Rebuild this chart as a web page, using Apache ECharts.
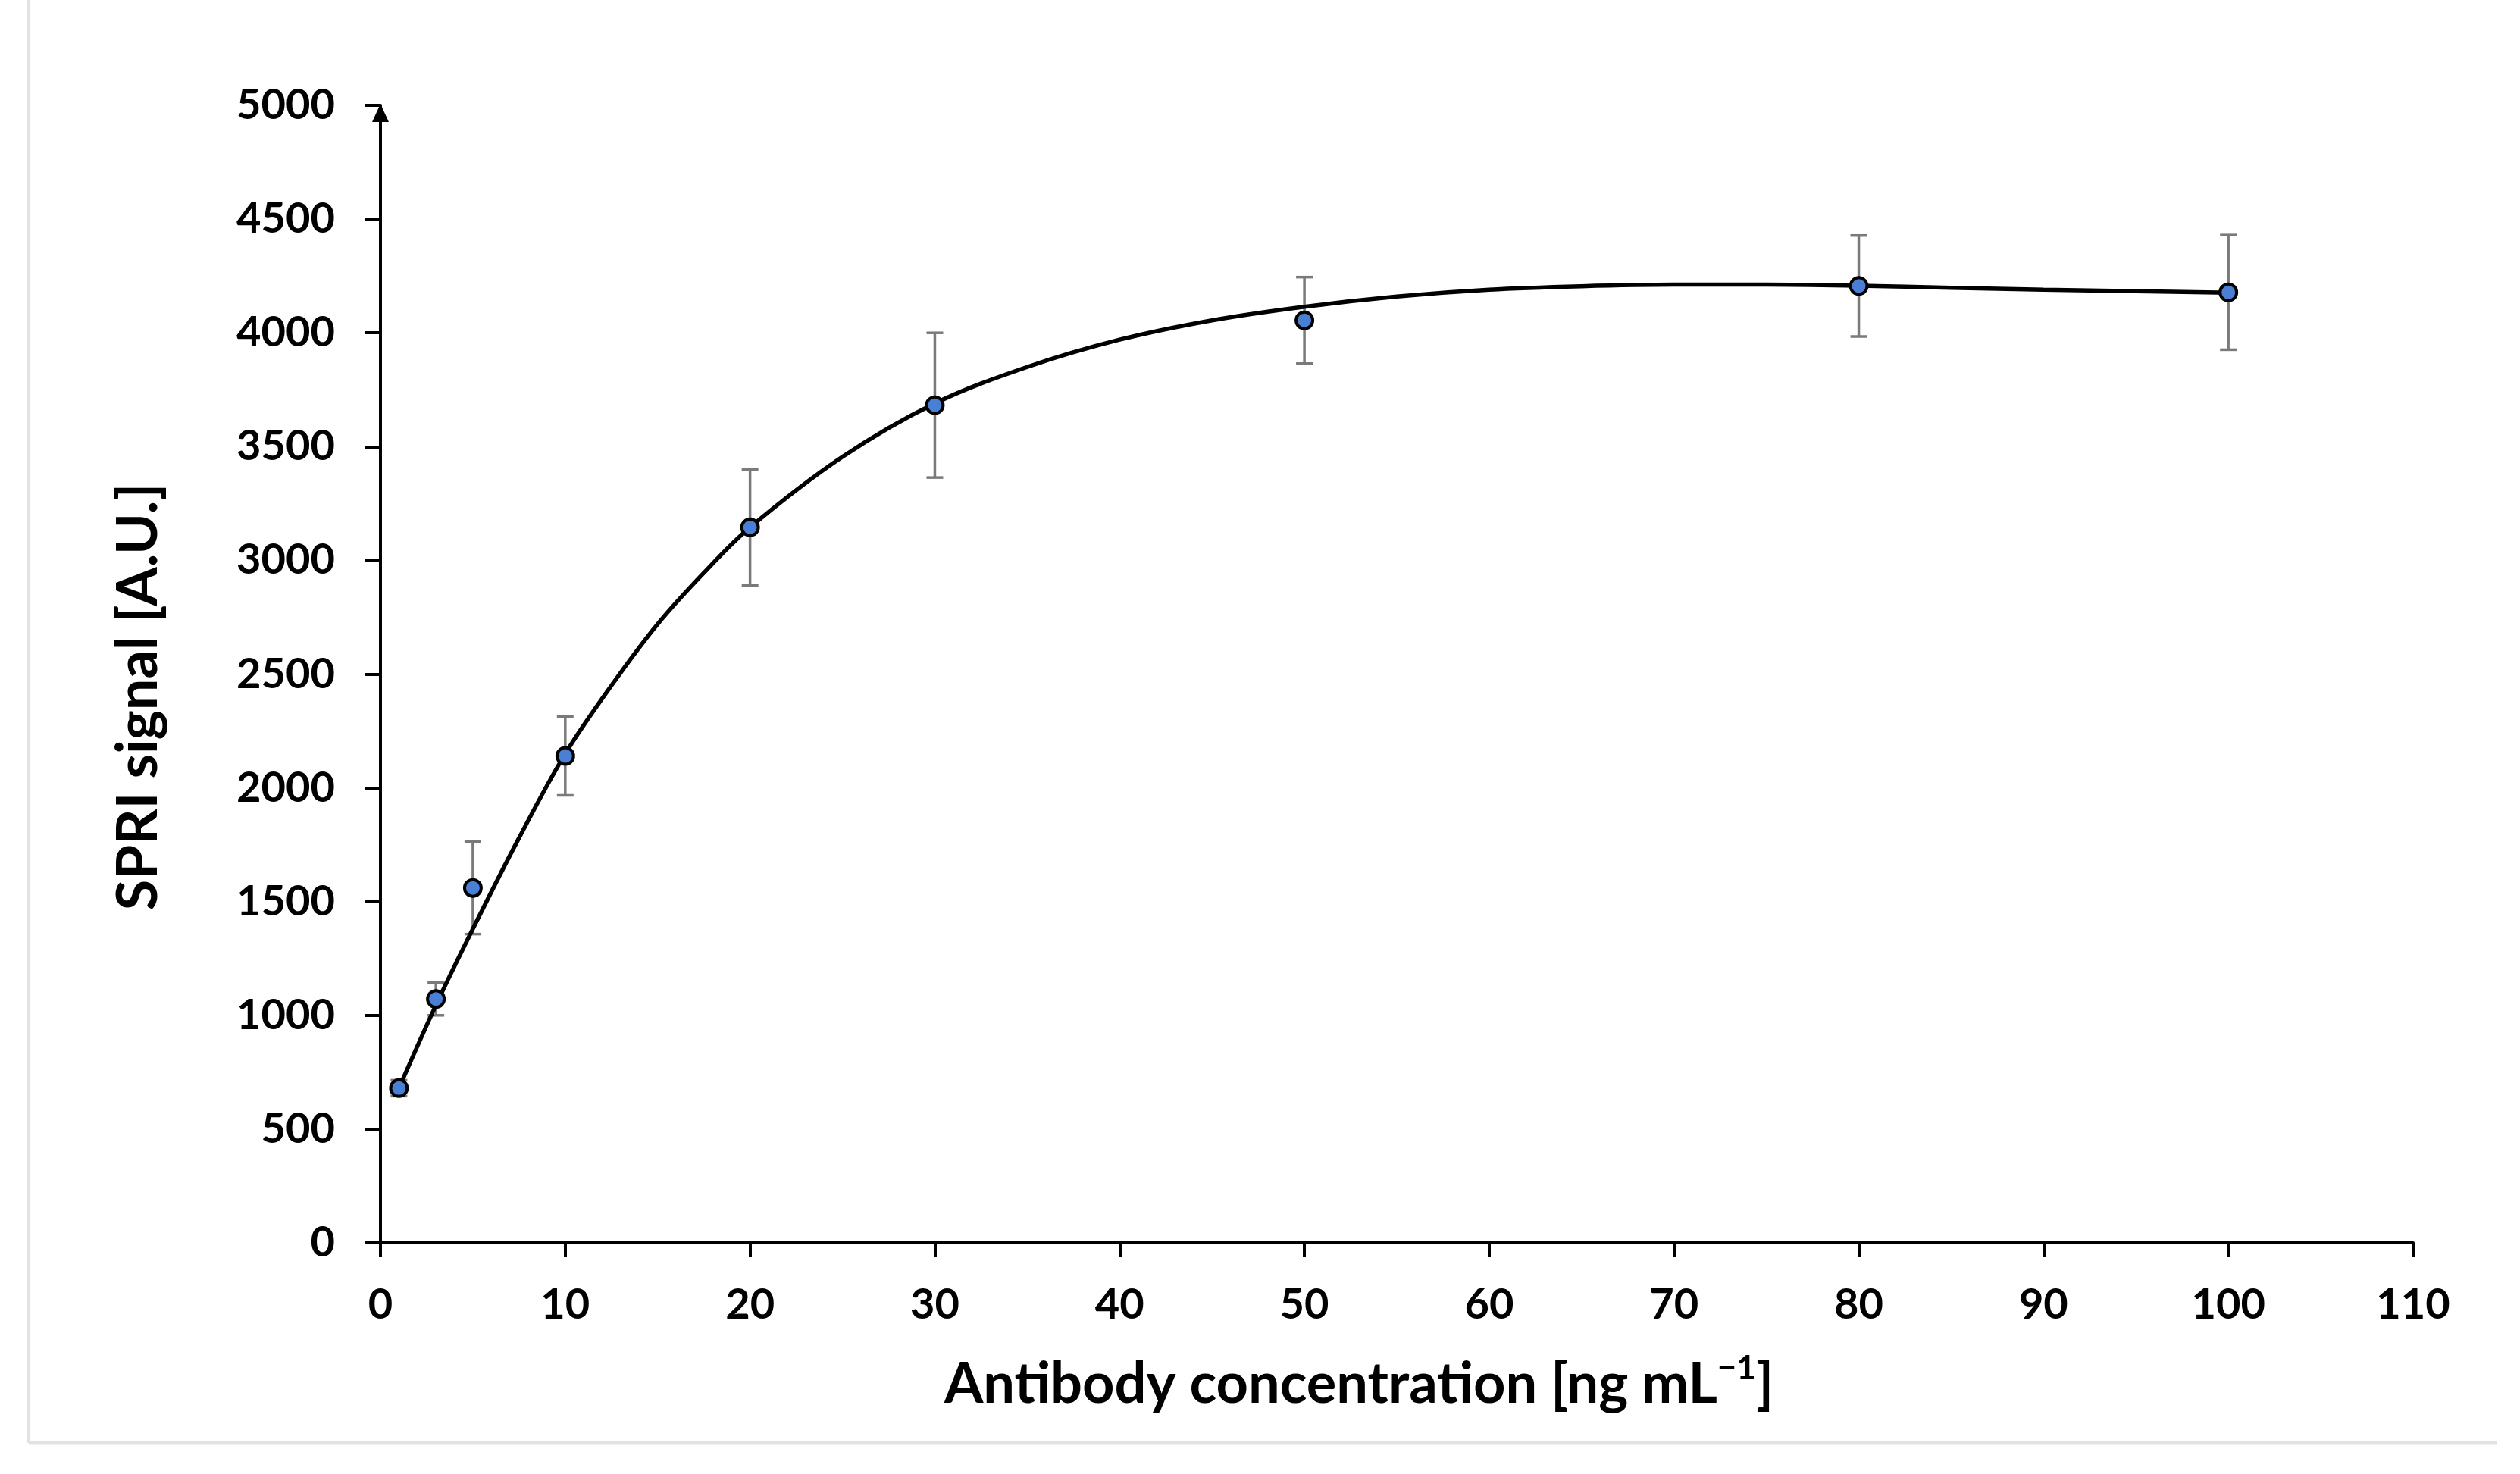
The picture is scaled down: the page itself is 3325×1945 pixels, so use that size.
<!DOCTYPE html>
<html>
<head>
<meta charset="utf-8">
<script src="https://cdn.jsdelivr.net/npm/echarts@6/dist/echarts.min.js"></script>
<style>
html,body{margin:0;padding:0;background:#fff;}
#chart{width:3325px;height:1945px;}
</style>
</head>
<body>
<div id="chart"></div>
<script>
// Measured data points
const concentrations = [1, 3, 5, 10, 20, 30, 50, 80, 100];
const signals = [680, 1072, 1560, 2140, 3145, 3682, 4055, 4206, 4178];
const errors = [35, 72, 203, 173, 255, 318, 190, 222, 252];

// Fitted curve
const curveX = [1, 3, 5, 7.5, 10, 12.5, 15, 17.5, 20, 25, 30, 35, 40, 45, 50, 55, 60, 65, 70, 75, 80, 85, 90, 95, 100];
const curveY = [680, 1045, 1380, 1780, 2150, 2450, 2720, 2945, 3145, 3455, 3690, 3850, 3970, 4055, 4115, 4160, 4190, 4205, 4212, 4212, 4207, 4198, 4190, 4183, 4176];

const xTicks = [0, 10, 20, 30, 40, 50, 60, 70, 80, 90, 100, 110];
const yTicks = [0, 500, 1000, 1500, 2000, 2500, 3000, 3500, 4000, 4500, 5000];

const FONT = 'Lato';
const chart = echarts.init(document.getElementById('chart'));

const points = concentrations.map((x, i) => [x, signals[i]]);
const errData = concentrations.map((x, i) => [x, signals[i] - errors[i], signals[i] + errors[i]]);
const curve = curveX.map((x, i) => [x, curveY[i]]);

chart.setOption({
  backgroundColor: '#ffffff',
  animation: false,
  graphic: [
    {type: 'line', shape: {x1: 38, y1: 0, x2: 38, y2: 1904}, style: {stroke: '#e2e2e2', lineWidth: 4}, silent: true},
    {type: 'line', shape: {x1: 38, y1: 1904, x2: 3295, y2: 1904}, style: {stroke: '#e2e2e2', lineWidth: 5}, silent: true}
  ],
  grid: {left: 502, right: 141, top: 139, bottom: 305, containLabel: false},
  xAxis: {
    type: 'value',
    min: xTicks[0],
    max: xTicks[xTicks.length - 1],
    interval: 10,
    splitLine: {show: false},
    axisLine: {show: true, onZero: false, lineStyle: {color: '#000', width: 4}},
    axisTick: {show: true, inside: false, length: 19, lineStyle: {color: '#000', width: 4}},
    axisLabel: {margin: 54, color: '#000', fontFamily: FONT, fontWeight: 'bold', fontSize: 56, formatter: v => String(v)},
    name: 'Antibody concentration [ng mL{sup|\u22121}]',
    nameLocation: 'middle',
    nameGap: 144,
    nameTextStyle: {
      color: '#000', fontFamily: FONT, fontWeight: 'bold', fontSize: 74, lineHeight: 86,
      padding: [0, 100, 0, 0],
      rich: {
        sup: {color: '#000', fontFamily: FONT, fontWeight: 'bold', fontSize: 44, lineHeight: 48, verticalAlign: 'top'}
      }
    }
  },
  yAxis: {
    type: 'value',
    min: yTicks[0],
    max: yTicks[yTicks.length - 1],
    interval: 500,
    splitLine: {show: false},
    axisLine: {show: true, onZero: false, symbol: ['none', 'triangle'], symbolSize: [22, 24], symbolOffset: [0, -10], lineStyle: {color: '#000', width: 4}},
    axisTick: {show: true, inside: false, length: 21, lineStyle: {color: '#000', width: 4}},
    axisLabel: {margin: 60, color: '#000', fontFamily: FONT, fontWeight: 'bold', fontSize: 56, formatter: v => String(v)},
    name: 'SPRI signal [A.U.]',
    nameLocation: 'middle',
    nameGap: 282,
    nameRotate: 90,
    nameTextStyle: {color: '#000', fontFamily: FONT, fontWeight: 'bold', fontSize: 74, padding: [0, 60, 0, 0]}
  },
  series: [
    {
      type: 'custom',
      z: 1,
      data: errData,
      renderItem: function (params, api) {
        const x = api.value(0);
        const lo = api.coord([x, api.value(1)]);
        const hi = api.coord([x, api.value(2)]);
        const cap = 11;
        const style = {stroke: '#7a7a7a', lineWidth: 3.5};
        return {
          type: 'group',
          children: [
            {type: 'line', shape: {x1: lo[0], y1: lo[1], x2: hi[0], y2: hi[1]}, style: style},
            {type: 'line', shape: {x1: lo[0] - cap, y1: lo[1], x2: lo[0] + cap, y2: lo[1]}, style: style},
            {type: 'line', shape: {x1: hi[0] - cap, y1: hi[1], x2: hi[0] + cap, y2: hi[1]}, style: style}
          ]
        };
      }
    },
    {
      type: 'line',
      z: 2,
      data: curve,
      smooth: 0.35,
      showSymbol: false,
      symbol: 'none',
      lineStyle: {color: '#000', width: 5.5}
    },
    {
      type: 'scatter',
      z: 3,
      data: points,
      symbol: 'circle',
      symbolSize: 22,
      itemStyle: {color: '#4a7fd6', borderColor: '#000', borderWidth: 4, opacity: 1}
    }
  ]
});
</script>
</body>
</html>
